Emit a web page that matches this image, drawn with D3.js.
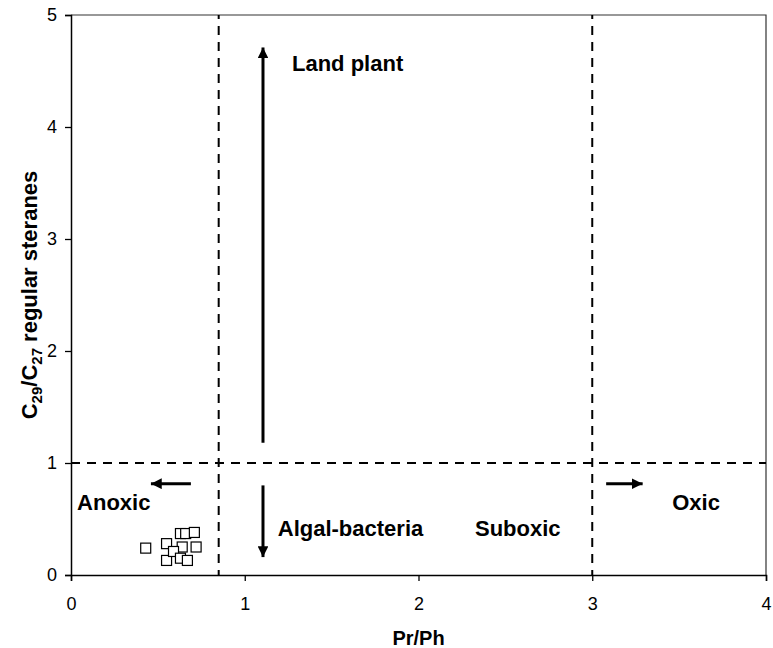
<!DOCTYPE html>
<html>
<head>
<meta charset="utf-8">
<script src="https://cdn.jsdelivr.net/npm/d3@7"></script>
<style>
  body { margin: 0; background: #fff; }
  svg { display: block; font-family: Arial, "Liberation Sans", sans-serif; }
</style>
</head>
<body>
<svg id="chart" width="773" height="648"></svg>
<script>
// Sample values: Pr/Ph vs C29/C27 regular steranes
const prPh    = [0.43, 0.55, 0.55, 0.63, 0.66, 0.71, 0.64, 0.72, 0.59, 0.63, 0.67];
const c29c27  = [0.24, 0.28, 0.13, 0.37, 0.37, 0.38, 0.25, 0.25, 0.21, 0.15, 0.13];

const xTicks = [0, 1, 2, 3, 4];
const yTicks = [0, 1, 2, 3, 4, 5];

// Boundaries between depositional fields
const anoxicLimit = 0.85;
const oxicLimit = 3;
const sourceLimit = 1;

// Annotation labels: [text, x, y] in data units (text baseline)
const labels = [
  ["Land plant", 1.272, 4.5],
  ["Anoxic", 0.035, 0.58],
  ["Algal-bacteria", 1.19, 0.35],
  ["Suboxic", 2.325, 0.345],
  ["Oxic", 3.46, 0.58]
];

// Direction arrows: [x1, y1, x2, y2] in data units (head at x2, y2)
const arrows = [
  [1.105, 1.18, 1.105, 4.71],
  [1.105, 0.80, 1.105, 0.16],
  [0.69, 0.815, 0.46, 0.815],
  [3.08, 0.815, 3.29, 0.815]
];

const svg = d3.select("#chart");
const margin = { left: 71, right: 7, top: 15, bottom: 73 };
const W = 773, H = 648;

const x = d3.scaleLinear().domain([0, 4]).range([margin.left, W - margin.right]);
const y = d3.scaleLinear().domain([0, 5]).range([H - margin.bottom, margin.top]);

svg.append("defs").append("marker")
  .attr("id", "head")
  .attr("viewBox", "0 0 10 10")
  .attr("refX", 10).attr("refY", 5)
  .attr("markerWidth", 3.6).attr("markerHeight", 3.6)
  .attr("markerUnits", "strokeWidth")
  .attr("orient", "auto")
  .append("path").attr("d", "M0,0 L10,5 L0,10 Z").attr("fill", "#000");

// Plot frame (top and right)
svg.append("path")
  .attr("d", `M${x(0)},${y(5)} H${x(4)} V${y(0)}`)
  .attr("fill", "none").attr("stroke", "#333").attr("stroke-width", 1.2);

// Axes
const xAxis = svg.append("g")
  .attr("transform", `translate(0,${y(0)})`)
  .call(d3.axisBottom(x).tickValues(xTicks).tickFormat(d3.format("d")).tickSize(6).tickPadding(16));
const yAxis = svg.append("g")
  .attr("transform", `translate(${x(0)},0)`)
  .call(d3.axisLeft(y).tickValues(yTicks).tickFormat(d3.format("d")).tickSize(6).tickPadding(8));

[xAxis, yAxis].forEach(g => {
  g.attr("font-size", null).attr("font-family", null);
  g.select(".domain").attr("stroke", "#000").attr("stroke-width", 1.5);
  g.selectAll(".tick line").attr("stroke", "#000").attr("stroke-width", 1.3);
  g.selectAll(".tick text").style("font-size", "18px").attr("fill", "#000");
});

// Field boundaries (dashed)
const dash = "9,7";
svg.append("line")
  .attr("x1", x(0)).attr("x2", x(4)).attr("y1", y(sourceLimit)).attr("y2", y(sourceLimit))
  .attr("stroke", "#000").attr("stroke-width", 2).attr("stroke-dasharray", dash);
[anoxicLimit, oxicLimit].forEach(v => {
  svg.append("line")
    .attr("x1", x(v)).attr("x2", x(v)).attr("y1", y(0)).attr("y2", y(5))
    .attr("stroke", "#000").attr("stroke-width", 2).attr("stroke-dasharray", dash)
    .attr("stroke-dashoffset", 4);
});

// Arrows
svg.selectAll("line.arrow").data(arrows).join("line")
  .attr("class", "arrow")
  .attr("x1", d => x(d[0])).attr("y1", d => y(d[1]))
  .attr("x2", d => x(d[2])).attr("y2", d => y(d[3]))
  .attr("stroke", "#000").attr("stroke-width", 3)
  .attr("marker-end", "url(#head)");

// Labels
svg.selectAll("text.lab").data(labels).join("text")
  .attr("class", "lab")
  .attr("x", d => x(d[1])).attr("y", d => y(d[2]))
  .style("font-size", "22px").attr("font-weight", "bold").attr("fill", "#000")
  .text(d => d[0]);

// Samples
const pts = prPh.map((v, i) => [v, c29c27[i]]);
svg.selectAll("rect.pt").data(pts).join("rect")
  .attr("class", "pt")
  .attr("x", d => x(d[0]) - 5).attr("y", d => y(d[1]) - 5)
  .attr("width", 10).attr("height", 10)
  .attr("fill", "#fff").attr("stroke", "#000").attr("stroke-width", 1.2);

// Axis titles
svg.append("text")
  .attr("x", (x(0) + x(4)) / 2).attr("y", 645)
  .attr("text-anchor", "middle").style("font-size", "20px").attr("font-weight", "bold")
  .text("Pr/Ph");

const yt = svg.append("text")
  .attr("transform", `translate(37,${(y(0) + y(5)) / 2}) rotate(-90)`)
  .attr("text-anchor", "middle").style("font-size", "22px").attr("font-weight", "bold");
yt.append("tspan").text("C");
yt.append("tspan").style("font-size", "15px").attr("dy", 5).text("29");
yt.append("tspan").attr("dy", -5).text("/C");
yt.append("tspan").style("font-size", "15px").attr("dy", 5).text("27");
yt.append("tspan").attr("dy", -5).text(" regular steranes");
</script>
</body>
</html>
